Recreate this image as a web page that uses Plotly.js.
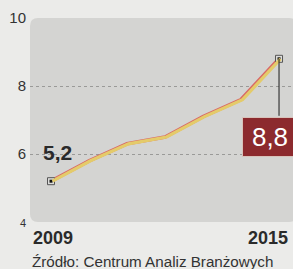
<!DOCTYPE html>
<html><head><meta charset="utf-8">
<script src="https://cdn.plot.ly/plotly-3.0.1.min.js"></script>
<style>html,body{margin:0;padding:0;background:#ebebe9;}#c{width:293px;height:269px;}</style>
</head><body><div id="c"></div>
<script>
const years = [2009, 2010, 2011, 2012, 2013, 2014, 2015];
const values = [5.2, 5.8, 6.3, 6.5, 7.1, 7.6, 8.8];
const yTickVals = [4, 6, 8, 10];
const yTickText = ['<span style="font-size:11px">4</span>', '6', '8', '10'];
const gridVals = [6, 8];
const xTickLabels = ['2009', '2015'];
const sourceText = 'Źródło: Centrum Analiz Branżowych';

const fmt = v => v.toFixed(1).replace('.', ',');
const first = 0, last = values.length - 1;
const FONT = 'Liberation Sans, Arial, sans-serif';

const xr = [2008.447, 2015.368];
const shadowShift = 1.5 / 38;

const traces = [
  {x: years, y: values, xaxis: 'x2', yaxis: 'y', mode: 'lines',
   line: {color: '#e4cb6a', width: 3.2}, hoverinfo: 'skip'},
  {x: years, y: values, mode: 'lines', line: {color: '#d96866', width: 3.6}, hoverinfo: 'skip'},
  {x: [years[first], years[last]], y: [values[first], values[last]], mode: 'markers',
   marker: {symbol: 'square', size: 7, color: '#dcdcda', line: {color: '#555', width: 1}}, hoverinfo: 'skip'},
  {x: [years[first], years[last]], y: [values[first], values[last]], mode: 'markers',
   marker: {symbol: 'square', size: 3, color: '#111'}, hoverinfo: 'skip'},
  {x: [years[first]], y: [values[first]], xaxis: 'x', yaxis: 'y2', mode: 'markers',
   marker: {size: 0.1, opacity: 0}, hoverinfo: 'skip'}
];

const layout = {
  width: 293, height: 269,
  margin: {l: 30, r: 0, t: 18, b: 47},
  paper_bgcolor: '#ebebe9', plot_bgcolor: 'rgba(0,0,0,0)',
  showlegend: false,
  xaxis: {range: xr, showgrid: false, zeroline: false, showticklabels: false, ticks: '', showline: false, fixedrange: true},
  xaxis2: {range: [xr[0] - shadowShift, xr[1] - shadowShift], overlaying: 'x', visible: false, fixedrange: true},
  yaxis: {range: [4, 10], tickmode: 'array', tickvals: yTickVals, ticktext: yTickText,
    showgrid: false, zeroline: false, ticks: '', ticklabelstandoff: 3,
    tickfont: {family: FONT, size: 15, color: '#333'}, fixedrange: true},
  yaxis2: {range: [4, 10], overlaying: 'y', tickmode: 'array', tickvals: gridVals,
    showticklabels: false, showgrid: true, griddash: 'dot', gridcolor: '#9a9a98', gridwidth: 1,
    zeroline: false, ticks: '', fixedrange: true},
  shapes: [{
    type: 'path', xref: 'paper', yref: 'paper', layer: 'below',
    path: 'M 0.0304 0 L 0.985 0 Q 1.015 0 1.015 0.039 L 1.015 0.961 Q 1.015 1 0.985 1 L 0.0304 1 Q 0 1 0 0.961 L 0 0.039 Q 0 0 0.0304 0 Z',
    fillcolor: '#d4d4d2', line: {width: 0}
  }],
  annotations: [
    {x: years[first], y: values[first], text: '<b>' + fmt(values[first]) + '</b>', showarrow: false,
     xshift: 6, yshift: 29, font: {family: FONT, size: 21, color: '#2a2a2a'}},
    {x: years[last], y: values[last], text: ' ', showarrow: true, ax: 0, ay: 67,
     arrowhead: 0, arrowwidth: 1, arrowcolor: '#1a1a1a', standoff: 0},
    {x: years[last], y: values[last], text: fmt(values[last]), showarrow: false,
     xshift: -9, yshift: -78, width: 52, height: 36, bgcolor: '#8c2a2e', bordercolor: '#d8c2ba', borderwidth: 1,
     font: {family: FONT, size: 26, color: '#ffffff'}},
    {x: years[first], y: 4, yref: 'y', text: '<b>' + xTickLabels[0] + '</b>', showarrow: false,
     yanchor: 'top', xshift: 2, yshift: -4, font: {family: FONT, size: 18, color: '#2a2a2a'}},
    {x: years[last], y: 4, yref: 'y', text: '<b>' + xTickLabels[1] + '</b>', showarrow: false,
     yanchor: 'top', xanchor: 'right', xshift: 11, yshift: -4, font: {family: FONT, size: 18, color: '#2a2a2a'}},
    {xref: 'paper', yref: 'paper', x: 0, y: 0, xanchor: 'left', yanchor: 'top', yshift: -29, xshift: 0,
     text: sourceText, showarrow: false, font: {family: FONT, size: 15.2, color: '#333'}}
  ]
};

Plotly.newPlot('c', traces, layout, {displayModeBar: false, staticPlot: true});
</script></body></html>
